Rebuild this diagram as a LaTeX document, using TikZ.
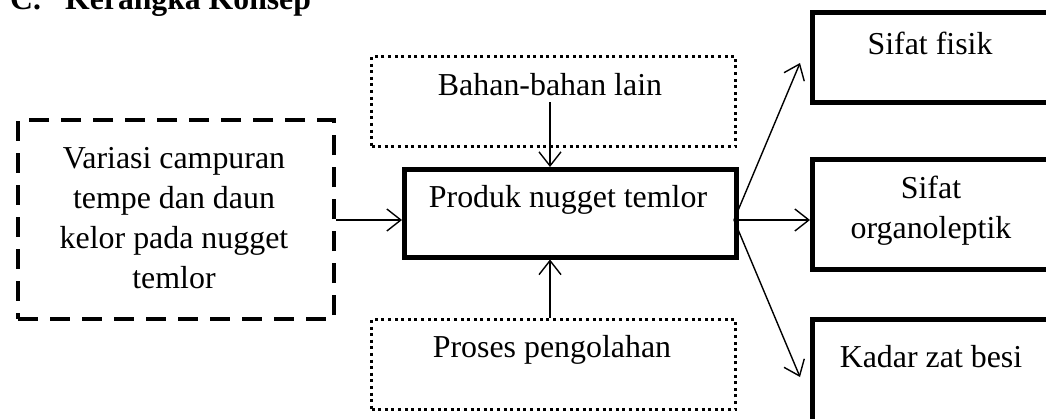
\documentclass[tikz,border=0pt]{standalone}
\usepackage{fontspec}
\setmainfont{Liberation Serif}
\usetikzlibrary{arrows.meta}
\begin{document}
\begin{tikzpicture}[x=1pt,y=-1pt,
  txt/.style={font=\fontsize{31.9}{40}\selectfont, inner sep=0pt, align=center},
  ttl/.style={font=\fontsize{31.7}{40}\selectfont\bfseries, inner sep=0pt, anchor=base west},
  thickbox/.style={draw, line width=4.5pt, inner sep=0pt, anchor=north west},
  dashbox/.style={draw, line width=4pt, dash pattern=on 20pt off 12pt, inner sep=0pt, anchor=north west},
  dotbox/.style={draw, line width=3pt, dash pattern=on 3pt off 3.6pt, inner sep=0pt, anchor=north west},
  arr/.style={line width=1.4pt, -{Straight Barb[length=14pt,width=22pt,line width=1.4pt]}}]
\useasboundingbox (0,0) rectangle (1046,418);
% title
\node[ttl] (tc) at (10,9) {C.};
\node[ttl] (tk) at (65,9) {Kerangka Konsep};
% boxes
\node[dashbox, minimum width=316pt, minimum height=199pt] (var) at (16,118) {};
\node[dotbox, minimum width=364pt, minimum height=90pt] (bahan) at (370,55) {};
\node[thickbox, minimum width=332pt, minimum height=88pt] (prod) at (402,167) {};
\node[dotbox, minimum width=364pt, minimum height=90pt] (proses) at (370,318) {};
\node[thickbox, minimum width=250pt, minimum height=90pt] (fisik) at (810,10) {};
\node[thickbox, minimum width=250pt, minimum height=110pt] (organo) at (810,157) {};
\node[thickbox, minimum width=250pt, minimum height=130pt] (besi) at (810,317) {};
% texts
\node[txt] (tvar) at (174,218) {Variasi campuran\\tempe dan daun\\kelor pada nugget\\temlor};
\node[txt] (tbahan) at (550,85) {Bahan-bahan lain};
\node[txt] (tprod) at (568,200) {Produk nugget temlor};
\node[txt] (tproses) at (552,350) {Proses pengolahan};
\node[txt] (tfisik) at (930,43) {Sifat fisik};
\node[txt] (torgano) at (931,211) {Sifat\\organoleptik};
\node[txt] (tbesi) at (931,357) {Kadar zat besi};
% connectors
\coordinate (bstart) at (550,102);
\coordinate (pe) at (734,220);
\coordinate (tip1) at (800,63);
\coordinate (tip3) at (800,377);
\draw[arr] (var.east |- pe) -- (prod.west |- pe);
\draw[arr] (bstart) -- (prod.north -| bstart);
\draw[arr] (proses.north -| bstart) -- (prod.south -| bstart);
\draw[arr] (pe) -- (tip1);
\draw[arr] (pe) -- (organo.west |- pe);
\draw[arr] (pe) -- (tip3);
\end{tikzpicture}
\end{document}
